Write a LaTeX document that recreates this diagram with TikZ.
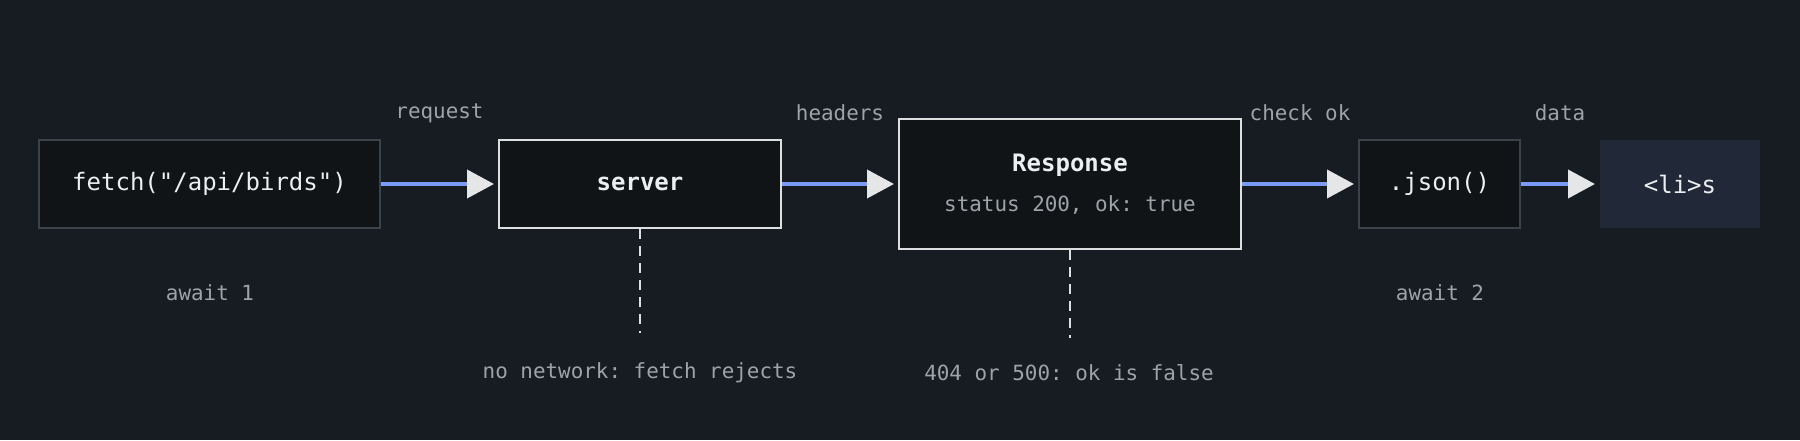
\documentclass[tikz,border=0pt]{standalone}
\usepackage{fontspec}
\setmonofont{DejaVu Sans Mono}
\usetikzlibrary{positioning,arrows.meta}
\definecolor{bgdark}{HTML}{171B22}
\definecolor{boxfill}{HTML}{111417}
\definecolor{boxline}{HTML}{3C424A}
\definecolor{whiteline}{HTML}{DCDEE0}
\definecolor{flowblue}{HTML}{7A9AF7}
\definecolor{tipgray}{HTML}{E4E6E8}
\definecolor{labelgray}{HTML}{9EA3A8}
\definecolor{nodetext}{HTML}{ECEEF0}
\definecolor{outfill}{HTML}{212939}

\begin{document}
\begin{tikzpicture}
        [x=0.5pt, y=-0.5pt, font=\ttfamily,
        % every node/.style={draw, thick},
        stage/.style={draw=boxline, line width=1pt, fill=boxfill, text=nodetext,
            minimum height=44pt, inner sep=0pt, font=\fontsize{12}{14}\selectfont\ttfamily},
        hop/.style={stage, draw=whiteline},
        sink/.style={stage, draw=none, fill=outfill},
        flow/.style={draw=flowblue, line width=2pt, shorten >=2pt,
            -{Triangle[length=13.5pt, width=14pt, color=tipgray]}},
        fail/.style={draw=whiteline, line width=1pt, dash pattern=on 5pt off 3.5pt},
        note/.style={text=labelgray, inner sep=0pt, font=\fontsize{10.45}{12}\selectfont\ttfamily}]
        \fill [bgdark] (0,0) rectangle (1800,440);
        \useasboundingbox (0,0) rectangle (1800,440);
        \node [stage, minimum width=170.5pt] (fetch) at (209.5,184) {fetch("/api/birds")};
        \node [hop, minimum width=141pt, font=\fontsize{12}{14}\selectfont\ttfamily\bfseries] (server) at (640,184) {server};
        \node [hop, minimum width=171pt, minimum height=65pt, align=center] (response) at (1070,184)
            {{\bfseries Response}\\[6pt]{\fontsize{10.45}{12}\selectfont\color{labelgray}status 200, ok: true}};
        \node [stage, minimum width=80.5pt] (json) at (1439.5,184) {.json()};
        \node [sink, minimum width=80pt] (lis) at (1680,184) {<li>s};
        % main flow
        \draw [flow] (fetch) -- node [note, midway, yshift=35.5pt] (request) {request} (server);
        \draw [flow] (server) -- node [note, midway, yshift=35.5pt] (headers) {headers} (response);
        \draw [flow] (response) -- node [note, midway, yshift=35.5pt] (checkok) {check ok} (json);
        \draw [flow] (json) -- node [note, midway, yshift=35.5pt] (data) {data} (lis);
        % awaits
        \node [note] (await1) at (210,293) {await 1};
        \node [note] (await2) at (1440,293) {await 2};
        % failure paths
        \coordinate (serverfail) at (640,333);
        \coordinate (responsefail) at (1070,338);
        \draw [fail] (server.south) -- (serverfail);
        \draw [fail] (response.south) -- (responsefail);
        \node [note] (nonet) at (640,373) {no network: fetch rejects};
        \node [note] (notok) at (1069,373) {404 or 500: ok is false};
\end{tikzpicture}
\end{document}
